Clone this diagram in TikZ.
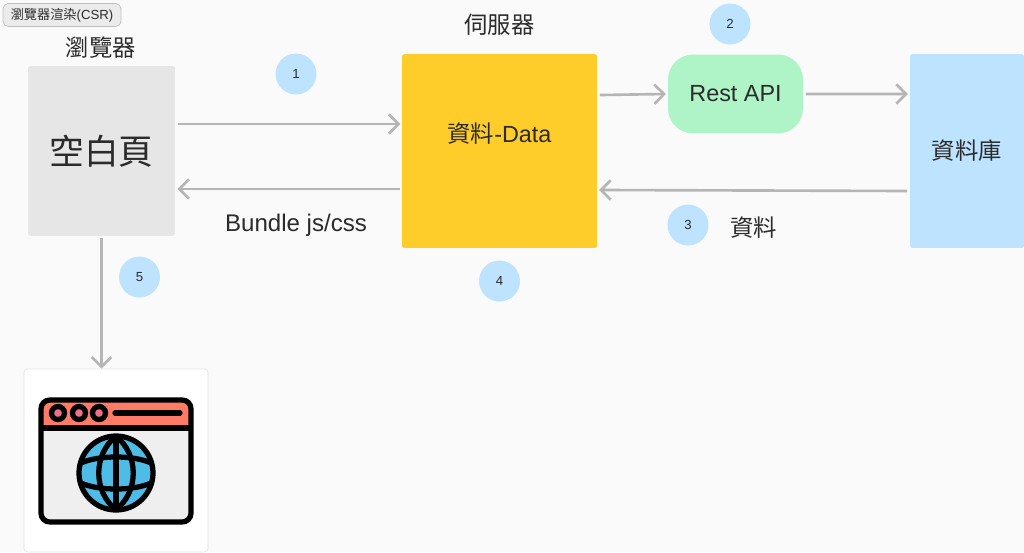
\documentclass[tikz,border=0pt]{standalone}
\usepackage{fontspec}
\setmainfont{Liberation Sans}
\newfontfamily\cjk{Noto Sans CJK TC}
\usetikzlibrary{arrows.meta}
\definecolor{pagebg}{HTML}{FAFAFA}
\definecolor{arrowgray}{HTML}{B5B5B5}
\definecolor{textgray}{HTML}{2B2B2B}
\definecolor{blankgray}{HTML}{E6E6E6}
\definecolor{dataamber}{HTML}{FFCD29}
\definecolor{apigreen}{HTML}{AFF4C6}
\definecolor{dbblue}{HTML}{BDE3FF}
\definecolor{iconred}{HTML}{FF7B66}
\definecolor{iconpink}{HTML}{F0708A}
\definecolor{iconblue}{HTML}{4DBDE8}
\definecolor{icongray}{HTML}{EFEFEF}
\tikzset{
    flow/.style={draw=arrowgray,line width=1.5pt,-{Straight Barb[length=5.5pt,width=11pt]}},
    badge/.style={circle,fill=dbblue,minimum size=0.82cm,inner sep=0pt,font=\fontsize{7.5}{9}\selectfont,text=textgray},
    lbl/.style={text=textgray,inner sep=0pt,font=\fontsize{13.3}{16}\selectfont},
    iconline/.style={draw=black,line width=3pt}
}
\begin{document}
\begin{tikzpicture}[x=0.02cm,y=-0.02cm]
    \useasboundingbox[fill=pagebg] (0,0) rectangle (1024,552);

    \node[draw=black!25,fill=black!8,rounded corners=3pt,minimum width=2.36cm,minimum height=0.46cm,inner sep=0pt,font=\fontsize{7.5}{9}\selectfont,text=textgray] (title) at (62,15) {{\cjk 瀏覽器渲染}(CSR)};
    \node[lbl] (browser) at (101,48) {\cjk 瀏覽器};
    \node[lbl] (server) at (499.5,25) {\cjk 伺服器};

    % boxes
    \node[fill=blankgray,rounded corners=1pt,minimum width=2.94cm,minimum height=3.4cm,inner sep=0pt,font=\fontsize{19.8}{24}\selectfont,text=textgray] (blank) at (101.5,151) {\cjk 空白頁};
    \node[fill=dataamber,rounded corners=1pt,minimum width=3.9cm,minimum height=3.88cm,inner sep=0pt] (data) at (499.5,151) {};
    \node[lbl] (datatext) at (499.5,134) {{\cjk 資料}-Data};
    \node[fill=apigreen,rounded corners=0.5cm,minimum width=2.7cm,minimum height=1.58cm,inner sep=0pt,lbl] (api) at (735.5,94) {Rest API};
    \node[fill=dbblue,rounded corners=1pt,minimum width=2.28cm,minimum height=3.88cm,inner sep=0pt,lbl] (db) at (967,151) {\cjk 資料庫};
    \node[draw=black!10,fill=white,rounded corners=2pt,minimum width=3.68cm,minimum height=3.66cm,inner sep=0pt] (card) at (116,460.5) {};

    % numbers
    \node[badge] (n1) at (296,74) {1};
    \node[badge] (n2) at (730,24) {2};
    \node[badge] (n3) at (688,225) {3};
    \node[badge] (n4) at (499.5,281) {4};
    \node[badge] (n5) at (139.5,277) {5};

    \node[lbl,font=\fontsize{13.7}{16}\selectfont] (bundle) at (296,225) {Bundle js/css};
    \node[lbl] (rows) at (753.5,228) {\cjk 資料};

    % arrows
    \draw[flow] ([xshift=1.5pt,yshift=0.54cm]blank.east) -- ([xshift=-0.8pt,yshift=0.54cm]data.west);
    \draw[flow] ([xshift=-1pt,yshift=-0.76cm]data.west) -- ([xshift=1.2pt,yshift=-0.76cm]blank.east);
    \draw[flow] ([xshift=1.5pt,yshift=1.12cm]data.east) -- ([xshift=-1pt]api.west);
    \draw[flow] ([xshift=1.5pt]api.east) -- ([xshift=-1pt,yshift=1.14cm]db.west);
    \draw[flow] ([xshift=-1.5pt,yshift=-0.8cm]db.west) -- ([xshift=1pt,yshift=-0.78cm]data.east);
    \draw[flow] ([yshift=-1pt]blank.south) -- (blank.south |- card.north);

    % window icon
    \fill[icongray,rounded corners=5pt] (41,400) rectangle (191,522);
    \fill[iconred,rounded corners=4pt] (41,400) rectangle (191,426);
    \draw[iconline,rounded corners=5pt] (41,400) rectangle (191,522);
    \draw[iconline] (41,428) -- (191,428);
    \foreach \px in {58,79,99}
        \draw[iconline,fill=iconpink] (\px,413) circle (6.5);
    \draw[draw=black,line width=3pt,line cap=round] (115,413) -- (180,413);
    \draw[iconline,fill=iconblue] (116,473) circle (37);
    \draw[iconline] (116,436) -- (116,510);
    \draw[iconline] (116,436) .. controls (93,455) and (93,491) .. (116,510);
    \draw[iconline] (116,436) .. controls (139,455) and (139,491) .. (116,510);
    \draw[iconline] (81,463) .. controls (98,455) and (134,455) .. (151,463);
    \draw[iconline] (81,483) .. controls (98,491) and (134,491) .. (151,483);
\end{tikzpicture}
\end{document}
